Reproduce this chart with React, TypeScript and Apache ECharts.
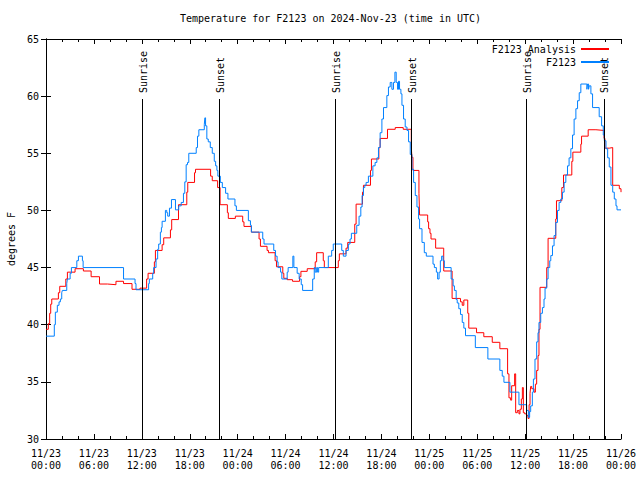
import React, { useEffect, useRef } from "react";
import * as echarts from "echarts";

const TITLE = "Temperature for F2123 on 2024-Nov-23 (time in UTC)";
const SERIES_NAMES = ["F2123 Analysis", "F2123"];
const xTickLabels = [
  "11/23\n00:00", "11/23\n06:00", "11/23\n12:00", "11/23\n18:00",
  "11/24\n00:00", "11/24\n06:00", "11/24\n12:00", "11/24\n18:00",
  "11/25\n00:00", "11/25\n06:00", "11/25\n12:00", "11/25\n18:00",
  "11/26\n00:00",
];

// hours since 11/23 00:00 UTC, value (degrees F); each point starts a new level
const analysis: [number, number][] = [
  [0, 39.6], [0.29, 40.1], [0.46, 41.0], [0.59, 41.8], [0.72, 42.25], [1.55, 42.8], [1.72, 43.36],
  [2.48, 44.0], [2.68, 44.6], [3.64, 44.9], [4.68, 44.7], [5.65, 44.2], [6.7, 43.56], [7.7, 43.5],
  [8.76, 43.8], [9.71, 43.6], [10.77, 43.1], [11.77, 43.2], [12.6, 44.0], [12.78, 44.5], [13.57, 45.5],
  [13.7, 46.5], [14.54, 47.0], [14.74, 47.6], [15.58, 48.3], [15.74, 49.2], [16.59, 50.5], [17.63, 51.6],
  [17.75, 52.45], [18.6, 53.3], [18.72, 53.6], [20.61, 53.0], [20.82, 52.6], [21.49, 52.0], [21.8, 50.5],
  [22.71, 49.8], [22.83, 49.3], [23.71, 49.5], [24.63, 49.0], [24.79, 48.6], [25.72, 48.1], [26.68, 47.5],
  [26.85, 46.86], [27.68, 46.5], [27.85, 46.3], [28.69, 45.6], [28.86, 45.07], [29.65, 44.5], [29.78, 44.06],
  [30.2, 43.94], [30.87, 43.8], [31.75, 44.2], [31.92, 44.67], [32.71, 44.9], [33.71, 45.5], [33.89, 46.3],
  [34.72, 45.6], [34.85, 45.0], [36.6, 45.6], [36.73, 46.2], [37.57, 46.7], [37.78, 47.2], [38.66, 48.8],
  [38.83, 50.55], [39.63, 51.6], [39.75, 52.2], [40.63, 53.5], [40.75, 54.5], [41.68, 55.5], [41.84, 56.3],
  [42.76, 57.1], [43.73, 57.25], [44.73, 57.1], [45.74, 55.5], [45.82, 54.65], [45.95, 53.5], [46.7, 51.5],
  [46.78, 49.6], [47.79, 49.0], [47.91, 48.4], [48.08, 48.0], [48.21, 47.5], [48.79, 46.7], [49.8, 44.7],
  [50.85, 42.3], [51.9, 42.0], [52.12, 41.7], [52.32, 42.16], [52.81, 41.0], [52.94, 39.7], [53.91, 39.3],
  [54.82, 38.95], [55.88, 38.46], [56.83, 37.9], [57.8, 35.7], [57.97, 33.6], [58.18, 33.4], [58.31, 34.66],
  [58.68, 35.7], [58.81, 32.3], [59.02, 32.5], [59.22, 32.2], [59.35, 32.6], [59.52, 33.5], [59.65, 34.5],
  [59.77, 32.3], [59.94, 32.2], [60.19, 32.04], [60.36, 31.8], [60.49, 33.0], [60.61, 34.0], [60.69, 34.6],
  [60.82, 34.4], [61.11, 34.1], [61.28, 34.8], [61.44, 36.0], [61.61, 37.3], [61.73, 39.6], [61.86, 43.27],
  [62.7, 45.0], [62.87, 47.56], [63.83, 49.25], [63.92, 50.85], [64.59, 52.0], [64.8, 53.1], [65.84, 54.3],
  [65.97, 55.1], [66.97, 55.8], [67.06, 56.5], [67.89, 57.06], [68.86, 57.0], [69.87, 56.3], [69.99, 55.45],
  [70.53, 55.5], [70.96, 52.2], [71.79, 51.9], [72, 51.6],
];

const observed: [number, number][] = [
  [0, 39.0], [1.04, 40.0], [1.17, 41.1], [1.42, 41.7], [1.63, 42.0], [1.8, 42.25], [1.97, 42.8], [2.05, 43.0],
  [2.6, 43.6], [2.68, 44.0], [3.02, 44.5], [3.18, 45.0], [3.86, 45.6], [4.06, 46.0], [4.56, 45.6], [4.65, 45.0],
  [9.71, 44.0], [11.15, 43.6], [11.27, 43.06], [12.85, 43.6], [12.94, 44.0], [13.36, 44.5], [13.48, 45.0],
  [13.78, 45.75], [13.98, 46.6], [14.11, 47.06], [14.32, 48.1], [14.45, 48.5], [14.54, 49.05], [14.95, 50.0],
  [15.12, 49.8], [15.24, 49.5], [15.46, 50.2], [15.71, 50.95], [16.21, 50.05], [16.62, 50.4], [16.93, 50.7],
  [17.21, 51.5], [17.38, 52.5], [17.55, 54.0], [17.72, 54.2], [17.88, 55.0], [18.81, 55.5], [18.97, 56.5],
  [19.14, 57.06], [19.82, 57.5], [19.89, 58.1], [19.98, 57.4], [20.14, 56.25], [20.32, 56.0], [20.57, 55.5],
  [20.82, 55.0], [21.07, 54.3], [21.24, 53.9], [21.4, 53.5], [21.52, 53.0], [21.83, 52.45], [22.08, 52.0],
  [22.49, 51.5], [22.78, 51.0], [23.66, 50.4], [23.84, 50.0], [25.34, 49.1], [25.6, 48.7], [25.72, 48.1],
  [27.14, 47.5], [27.3, 47.06], [28.52, 46.5], [28.74, 46.0], [28.94, 45.5], [29.06, 45.0], [29.37, 44.6],
  [29.53, 44.0], [30.2, 44.6], [30.32, 45.0], [30.91, 46.0], [31.04, 45.0], [31.45, 44.5], [31.7, 44.0],
  [31.96, 43.5], [32.13, 43.0], [33.39, 44.0], [33.59, 45.0], [33.71, 44.6], [33.89, 45.0], [34.01, 44.6],
  [34.14, 45.0], [35.35, 46.0], [35.77, 46.5], [35.97, 47.06], [37.03, 46.5], [37.23, 46.0], [37.57, 46.5],
  [37.86, 47.06], [38.07, 47.5], [38.24, 48.0], [38.91, 48.7], [39.2, 49.5], [39.42, 50.3], [39.58, 51.3],
  [39.75, 52.0], [39.92, 52.2], [40.08, 52.45], [40.37, 53.0], [40.93, 53.9], [41.21, 54.2], [41.43, 54.6],
  [41.63, 55.5], [41.84, 56.8], [42.06, 58.0], [42.26, 59.0], [42.68, 60.05], [42.88, 60.8], [43.1, 61.2],
  [43.31, 60.6], [43.51, 61.2], [43.69, 62.1], [43.85, 61.2], [44.02, 60.6], [44.14, 61.3], [44.27, 60.6],
  [44.44, 60.2], [44.57, 59.2], [44.77, 58.0], [44.98, 57.3], [45.2, 57.0], [45.4, 56.0], [45.61, 54.9],
  [45.82, 53.6], [46.03, 52.45], [46.24, 51.3], [46.45, 50.3], [46.65, 49.25], [46.78, 48.4], [47.08, 47.2],
  [47.37, 46.3], [47.62, 46.0], [48.46, 45.3], [48.63, 45.0], [48.88, 44.6], [49.04, 44.0], [49.22, 44.6],
  [49.38, 45.6], [49.54, 46.0], [49.72, 45.6], [49.88, 45.0], [50.73, 44.0], [50.98, 43.4], [51.14, 43.0],
  [51.36, 42.2], [51.49, 41.9], [51.69, 41.4], [51.9, 40.9], [52.12, 40.2], [52.32, 39.7], [52.53, 39.04],
  [53.76, 38.0], [55.33, 37.0], [56.83, 36.0], [57.13, 35.5], [57.34, 34.96], [58.09, 34.1], [59.22, 33.0],
  [60.19, 32.5], [60.4, 31.9], [60.56, 32.4], [60.69, 32.9], [60.9, 34.1], [61.03, 35.25], [61.23, 37.0],
  [61.44, 38.5], [61.61, 39.3], [61.73, 40.2], [61.95, 41.0], [62.16, 41.5], [62.36, 42.25], [62.49, 43.2],
  [62.7, 44.0], [62.87, 45.0], [63.08, 45.6], [63.21, 46.05], [63.42, 46.9], [63.62, 47.8], [63.83, 48.95],
  [64.05, 50.0], [64.25, 50.7], [64.46, 51.0], [64.67, 51.6], [64.88, 52.45], [65.09, 53.1], [65.3, 53.9],
  [65.5, 54.6], [65.72, 55.4], [65.93, 56.6], [66.13, 58.0], [66.35, 58.9], [66.56, 59.6], [66.77, 60.3],
  [66.97, 61.06], [67.73, 60.6], [67.81, 61.06], [67.94, 60.6], [68.02, 60.9], [68.23, 60.2], [68.44, 59.0],
  [69.27, 58.2], [69.57, 57.4], [69.78, 56.6], [69.91, 56.1], [70.12, 55.4], [70.33, 54.6], [70.53, 53.8],
  [70.74, 52.2], [70.96, 51.6], [71.16, 51.0], [71.37, 50.4], [71.5, 50.05], [72, 50.05],
];

const sunEventHours = [12.06, 21.74, 36.19, 45.74, 60.19, 69.86];
const sunEventLabels = ["Sunrise", "Sunset", "Sunrise", "Sunset", "Sunrise", "Sunset"];
const SUN_LINE_TOP = 59.75;

const FONT = "'DejaVu Sans Mono', 'Liberation Mono', monospace";

export default function App() {
  const ref = useRef<HTMLDivElement>(null);
  useEffect(() => {
    if (!ref.current) return;
    const chart = echarts.init(ref.current, null, { renderer: "svg" });
    const tickCommon = {
      axisLine: { show: true, lineStyle: { color: "#000", width: 1 } },
      axisTick: { show: true, inside: true, length: 5, lineStyle: { color: "#000" } },
      splitLine: { show: false },
    };
    chart.setOption({
      animation: false,
      backgroundColor: "#fff",
      title: {
        text: TITLE,
        left: 180,
        top: 13,
        padding: 0,
        textStyle: { fontFamily: FONT, fontSize: 10, fontWeight: "normal", color: "#000" },
      },
      legend: {
        data: SERIES_NAMES,
        orient: "vertical",
        right: 31,
        top: 43,
        align: "right",
        itemGap: 1,
        itemWidth: 28,
        itemHeight: 2,
        icon: "rect",
        padding: 0,
        textStyle: { fontFamily: FONT, fontSize: 10, color: "#000", lineHeight: 12 },
      },
      grid: { left: 46, right: 19, top: 39, bottom: 41, containLabel: false, outerBoundsMode: "none" },
      xAxis: [
        {
          type: "value",
          min: 0,
          max: 72,
          interval: 6,
          position: "bottom",
          ...tickCommon,
          minorTick: { show: true, splitNumber: 3, length: 3, lineStyle: { color: "#000" } },
          axisLabel: {
            margin: 8,
            fontFamily: FONT,
            fontSize: 10,
            color: "#000",
            lineHeight: 12,
            formatter: (v: number) => xTickLabels[Math.round(v / 6)] ?? "",
          },
        },
        {
          type: "value",
          min: 0,
          max: 72,
          interval: 6,
          position: "top",
          ...tickCommon,
          minorTick: { show: true, splitNumber: 3, length: 3, lineStyle: { color: "#000" } },
          axisLabel: { show: false },
        },
      ],
      yAxis: [
        {
          type: "value",
          min: 30,
          max: 65,
          interval: 5,
          position: "left",
          ...tickCommon,
          name: "degrees F",
          nameLocation: "middle",
          nameGap: 30,
          nameTextStyle: { fontFamily: FONT, fontSize: 10, color: "#000" },
          axisLabel: { margin: 7, fontFamily: FONT, fontSize: 10, color: "#000" },
        },
        {
          type: "value",
          min: 30,
          max: 65,
          interval: 5,
          position: "right",
          ...tickCommon,
          axisLabel: { show: false },
        },
      ],
      series: [
        {
          name: SERIES_NAMES[0],
          type: "line",
          step: "end",
          data: analysis,
          showSymbol: false,
          symbol: "none",
          lineStyle: { color: "#ff0000", width: 1 },
          itemStyle: { color: "#ff0000" },
        },
        {
          name: SERIES_NAMES[1],
          type: "line",
          step: "end",
          data: observed,
          showSymbol: false,
          symbol: "none",
          lineStyle: { color: "#0080ff", width: 1 },
          itemStyle: { color: "#0080ff" },
          markLine: {
            silent: true,
            symbol: "none",
            label: { show: false },
            lineStyle: { color: "#000", width: 1, type: "solid" },
            data: sunEventHours.map((h) => [{ coord: [h, 30] }, { coord: [h, SUN_LINE_TOP] }]),
          },
        },
      ],
    });
    const graphics = sunEventHours.map((h, i) => {
      const p = chart.convertToPixel({ gridIndex: 0 }, [h, SUN_LINE_TOP]) as number[];
      return {
        type: "text",
        x: p[0] + 1,
        y: p[1] - 6,
        rotation: Math.PI / 2,
        silent: true,
        style: {
          text: sunEventLabels[i],
          fontFamily: FONT,
          fontSize: 10,
          fill: "#000",
          align: "left",
          verticalAlign: "middle",
          textAlign: "left",
          textVerticalAlign: "middle",
        },
      };
    });
    chart.setOption({ graphic: graphics });
    return () => chart.dispose();
  }, []);
  return <div ref={ref} style={{ width: 640, height: 480, position: "absolute", left: 0, top: 0 }} />;
}
